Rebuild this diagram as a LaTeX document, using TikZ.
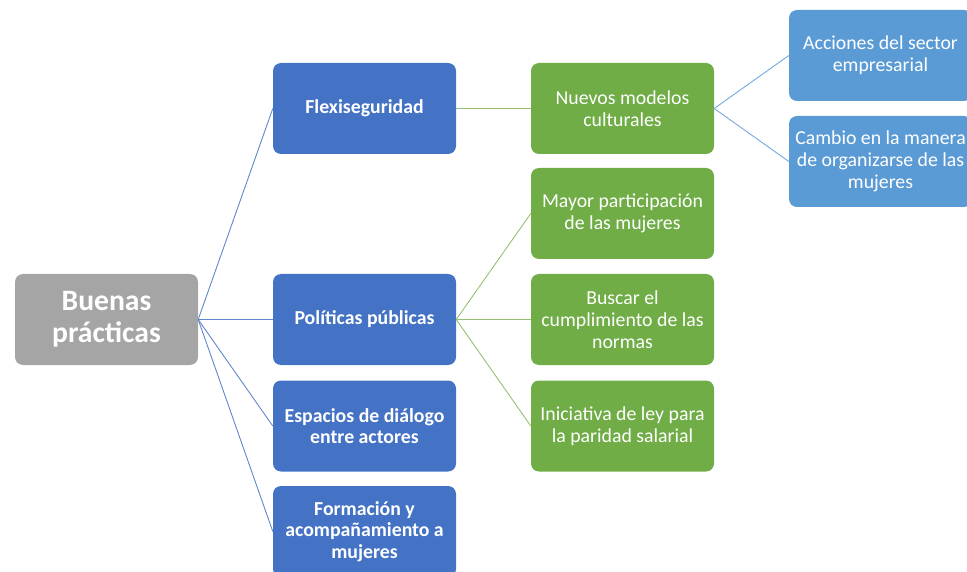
\documentclass[tikz,border=0pt]{standalone}
\usepackage{fontspec}
\setmainfont{Carlito}
\definecolor{cblue}{HTML}{4472C4}
\definecolor{cgreen}{HTML}{70AD47}
\definecolor{clight}{HTML}{5B9BD5}
\definecolor{cgray}{HTML}{A5A5A5}
\begin{document}
\begin{tikzpicture}[x=1pt,y=-1pt,
  box/.style={rounded corners=8pt, minimum width=183pt, minimum height=91pt, inner sep=2pt,
    text=white, align=center, font=\fontsize{19.8}{21.7}\selectfont},
  rootbox/.style={box, fill=cgray, font=\bfseries\fontsize{29.6}{32}\selectfont},
  lvone/.style={box, fill=cblue, font=\bfseries\fontsize{19.8}{21.7}\selectfont},
  lvtwo/.style={box, fill=cgreen},
  lvthree/.style={box, fill=clight},
  bline/.style={draw=cblue!85!white, line width=0.9pt},
  gline/.style={draw=cgreen!75!white, line width=0.9pt},
  lline/.style={draw=clight!85!white, line width=0.9pt}]
\useasboundingbox (0,0) rectangle (967,572);
\node[rootbox] (root) at (106.5,319.5) {Buenas\\prácticas};
\node[lvone] (b1) at (364.5,108.5) {Flexiseguridad};
\node[lvone] (b2) at (364.5,319.5) {Políticas públicas};
\node[lvone] (b3) at (364.5,426) {Espacios de diálogo\\entre actores};
\node[lvone] (b4) at (364.5,531.5) {Formación y\\acompañamiento a\\mujeres};
\node[lvtwo] (g1) at (622.5,108.5) {Nuevos modelos\\culturales};
\node[lvtwo] (g2) at (622.5,213.5) {Mayor participación\\de las mujeres};
\node[lvtwo] (g3) at (622.5,319.5) {Buscar el\\cumplimiento de las\\normas};
\node[lvtwo] (g4) at (622.5,426) {Iniciativa de ley para\\la paridad salarial};
\node[lvthree] (l1) at (880.5,55.5) {Acciones del sector\\empresarial};
\node[lvthree] (l2) at (880.5,161.5) {Cambio en la manera\\de organizarse de las\\mujeres};
\foreach \t in {b1,b2,b3,b4} \draw[bline] (root.east) -- (\t.west);
\draw[gline] (b1.east) -- (g1.west);
\foreach \t in {g2,g3,g4} \draw[gline] (b2.east) -- (\t.west);
\foreach \t in {l1,l2} \draw[lline] (g1.east) -- (\t.west);
\end{tikzpicture}
\end{document}
